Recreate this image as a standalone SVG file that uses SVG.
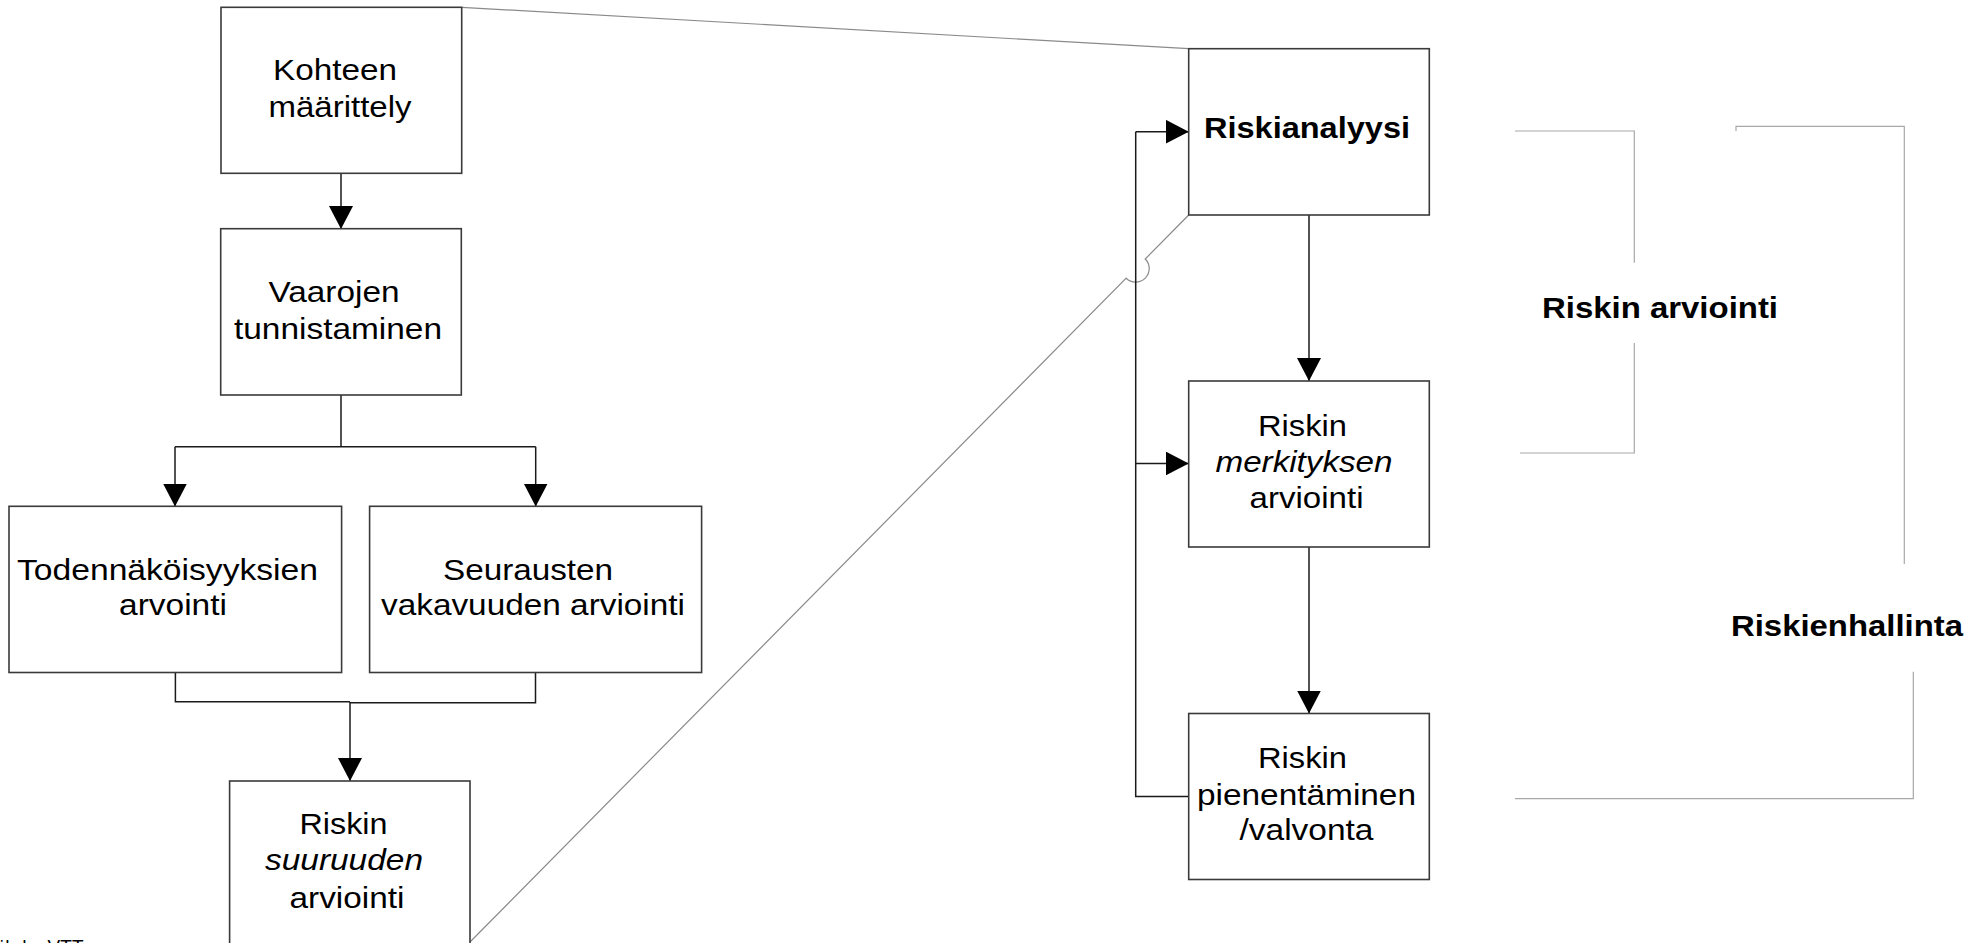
<svg xmlns="http://www.w3.org/2000/svg" width="1978" height="943" viewBox="0 0 1978 943">
  <style>
    .box { fill: #ffffff; stroke: #3a3a3a; stroke-width: 1.6; }
    .t { font-family: "Liberation Sans", Arial, sans-serif; font-size: 29px; fill: #000000; }
    .b { font-family: "Liberation Sans", Arial, sans-serif; font-size: 30px; font-weight: bold; fill: #000000; }
    .i { font-style: italic; }
    .flow { fill: none; stroke: #1a1a1a; stroke-width: 1.5; }
    .link { fill: none; stroke: #8a8a8a; stroke-width: 1.2; }
    .brace { fill: none; stroke: #a8a8a8; stroke-width: 1.2; }
  </style>
  <defs>
    <marker id="arrow" markerUnits="userSpaceOnUse" markerWidth="24" markerHeight="24" refX="23" refY="12" orient="auto">
      <path d="M0,0 L23,12 L0,24 Z" fill="#000000"/>
    </marker>
  </defs>
  <rect width="1978" height="943" fill="#ffffff"/>

  <!-- connectors -->
  <g id="connectors">
    <!-- zoom lines from the left chain to the right chain -->
    <path class="link" d="M461.7,7.3 L1188.7,48.7"/>
    <path class="link" d="M470,942 L1126.2,278.2 A13.5,13.5 0 0 0 1145.2,259 L1188.7,215"/>

    <!-- left chain -->
    <path class="flow" d="M341,173 L341,229" marker-end="url(#arrow)"/>
    <path class="flow" d="M341,395 L341,446.7 M175,446.7 L535.7,446.7"/>
    <path class="flow" d="M175,446.7 L175,506.5" marker-end="url(#arrow)"/>
    <path class="flow" d="M535.7,446.7 L535.7,506.5" marker-end="url(#arrow)"/>
    <path class="flow" d="M175.4,672.5 L175.4,701.7 L350,701.7 M535.5,672.5 L535.5,702.7 L350,702.7"/>
    <path class="flow" d="M350,702 L350,781" marker-end="url(#arrow)"/>

    <!-- right chain -->
    <path class="flow" d="M1309,215 L1309,381" marker-end="url(#arrow)"/>
    <path class="flow" d="M1309,547 L1309,713.5" marker-end="url(#arrow)"/>
    <path class="flow" d="M1188.7,796.5 L1135.7,796.5 L1135.7,131.7"/>
    <path class="flow" d="M1135.7,131.7 L1188.7,131.7" marker-end="url(#arrow)"/>
    <path class="flow" d="M1135.7,463.5 L1188.7,463.5" marker-end="url(#arrow)"/>

    <!-- brackets -->
    <path class="brace" d="M1515,131 L1634.3,131 L1634.3,262.7 M1634.3,343 L1634.3,453 L1520,453"/>
    <path class="brace" d="M1736,131 L1736,126.3 L1904.3,126.3 L1904.3,564 M1913.3,671.8 L1913.3,798.6 L1515,798.6"/>
  </g>

  <!-- nodes -->
  <g id="kohteen-maarittely">
    <rect class="box" x="221" y="7.3" width="240.7" height="166"/>
    <text class="t" x="273" y="80" textLength="124" lengthAdjust="spacingAndGlyphs">Kohteen</text>
    <text class="t" x="268.5" y="117" textLength="143" lengthAdjust="spacingAndGlyphs">määrittely</text>
  </g>
  <g id="vaarojen-tunnistaminen">
    <rect class="box" x="220.7" y="228.7" width="240.6" height="166.3"/>
    <text class="t" x="268.5" y="302" textLength="131" lengthAdjust="spacingAndGlyphs">Vaarojen</text>
    <text class="t" x="234" y="339" textLength="208" lengthAdjust="spacingAndGlyphs">tunnistaminen</text>
  </g>
  <g id="todennakoisyydet">
    <rect class="box" x="9" y="506.3" width="332.6" height="166.2"/>
    <text class="t" x="17" y="580" textLength="301" lengthAdjust="spacingAndGlyphs">Todennäköisyyksien</text>
    <text class="t" x="119" y="615" textLength="108" lengthAdjust="spacingAndGlyphs">arvointi</text>
  </g>
  <g id="seurausten-vakavuus">
    <rect class="box" x="369.6" y="506.3" width="332" height="166.2"/>
    <text class="t" x="443" y="580" textLength="170" lengthAdjust="spacingAndGlyphs">Seurausten</text>
    <text class="t" x="381" y="615" textLength="304" lengthAdjust="spacingAndGlyphs">vakavuuden arviointi</text>
  </g>
  <g id="riskin-suuruus">
    <rect class="box" x="229.6" y="781" width="240.4" height="164"/>
    <text class="t" x="299.5" y="834" textLength="88" lengthAdjust="spacingAndGlyphs">Riskin</text>
    <text class="t i" x="265" y="870" textLength="158" lengthAdjust="spacingAndGlyphs">suuruuden</text>
    <text class="t" x="289.5" y="908" textLength="115" lengthAdjust="spacingAndGlyphs">arviointi</text>
  </g>
  <g id="riskianalyysi">
    <rect class="box" x="1188.7" y="48.7" width="240.6" height="166.3"/>
    <text class="b" x="1204" y="138" textLength="206" lengthAdjust="spacingAndGlyphs">Riskianalyysi</text>
  </g>
  <g id="riskin-merkitys">
    <rect class="box" x="1188.7" y="381" width="240.6" height="166"/>
    <text class="t" x="1258" y="436" textLength="89" lengthAdjust="spacingAndGlyphs">Riskin</text>
    <text class="t i" x="1215.5" y="472" textLength="177" lengthAdjust="spacingAndGlyphs">merkityksen</text>
    <text class="t" x="1249.5" y="508" textLength="114" lengthAdjust="spacingAndGlyphs">arviointi</text>
  </g>
  <g id="riskin-pienentaminen">
    <rect class="box" x="1188.7" y="713.5" width="240.6" height="166"/>
    <text class="t" x="1258" y="768" textLength="89" lengthAdjust="spacingAndGlyphs">Riskin</text>
    <text class="t" x="1197" y="805" textLength="219" lengthAdjust="spacingAndGlyphs">pienentäminen</text>
    <text class="t" x="1239.5" y="840" textLength="134" lengthAdjust="spacingAndGlyphs">/valvonta</text>
  </g>
  <g id="label-riskin-arviointi">
    <text class="b" x="1542" y="318" textLength="236" lengthAdjust="spacingAndGlyphs">Riskin arviointi</text>
  </g>
  <g id="label-riskienhallinta">
    <text class="b" x="1731" y="636" textLength="232" lengthAdjust="spacingAndGlyphs">Riskienhallinta</text>
  </g>
  <g id="source">
    <text x="83.5" y="953" text-anchor="end" style="font-family: 'Liberation Sans', Arial, sans-serif; font-size: 19px; fill: #000000;">Lähde: VTT</text>
  </g>
</svg>
